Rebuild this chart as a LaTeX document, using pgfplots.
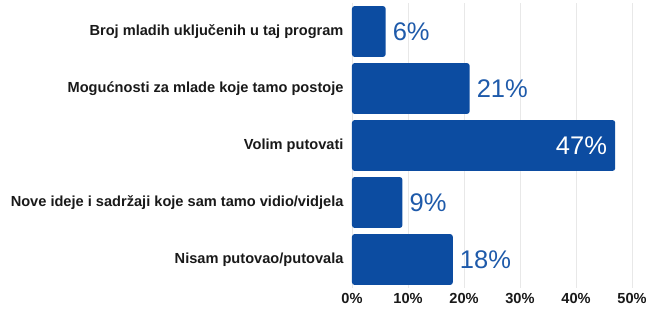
\documentclass[border=0pt]{standalone}
\usepackage{fontspec}
\setmainfont{Liberation Sans}
\usepackage{pgfplots}
\pgfplotsset{compat=1.18}
\usetikzlibrary{calc}
\definecolor{barblue}{RGB}{12,76,161}
\definecolor{lblblue}{RGB}{30,90,170}
\definecolor{gridgray}{RGB}{232,232,232}
\begin{document}
\begin{tikzpicture}
\begin{axis}[
  scale only axis, width=280pt, height=285pt,
  xbar, bar width=0.89, bar shift=0pt,
  xmin=0, xmax=50, ymin=-0.5, ymax=4.5, y dir=reverse,
  ytick={0,1,2,3,4},
  yticklabels={Broj mladih uključenih u taj program,
               Mogućnosti za mlade koje tamo postoje,
               Volim putovati,
               Nove ideje i sadržaji koje sam tamo vidio/vidjela,
               Nisam putovao/putovala},
  xtick={0,10,20,30,40,50},
  xticklabel={\pgfmathprintnumber{\tick}\%},
  /pgf/number format/assume math mode=true,
  axis line style={draw=none},
  major tick length=0pt,
  xmajorgrids, major grid style={gridgray, line width=0.8pt},
  ticklabel style={font=\bfseries\fontsize{14.6}{16}\selectfont, text=black!90},
  yticklabel style={xshift=-5pt},
  xticklabel style={yshift=-2pt},
  nodes near coords={\pgfmathprintnumber{\pgfplotspointmeta}\%},
  point meta=x,
  every node near coord/.append style={font=\fontsize{25.5}{26}\selectfont, inner sep=0pt},
]
\addplot[fill=barblue, draw=none, rounded corners=2.5pt,
  every node near coord/.append style={text=lblblue, anchor=west, xshift=7pt}]
  coordinates {(6,0) (21,1) (9,3) (18,4)};
\addplot[fill=barblue, draw=none, rounded corners=2.5pt,
  every node near coord/.append style={text=white, anchor=east, xshift=-8pt}]
  coordinates {(47,2)};
\end{axis}
\pgfresetboundingbox
\path ($(current axis.south west)+(-352pt,-21pt)$) rectangle ++(646pt,309pt);
\end{tikzpicture}
\end{document}
